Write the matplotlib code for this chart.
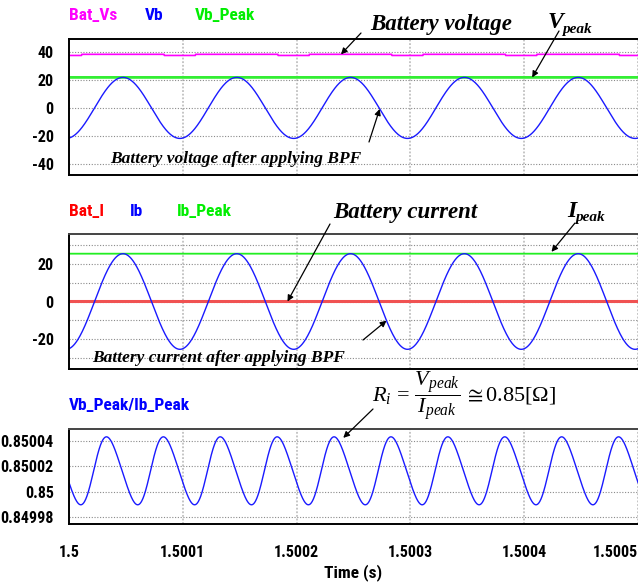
import numpy as np
import matplotlib.pyplot as plt

plt.rcParams['mathtext.fontset'] = 'custom'
plt.rcParams['mathtext.rm'] = 'Liberation Serif'
plt.rcParams['mathtext.it'] = 'Liberation Serif:italic'
plt.rcParams['mathtext.bf'] = 'Liberation Serif:bold'

SANS = ['Roboto Condensed', 'DejaVu Sans']
SERIF = ['Liberation Serif', 'DejaVu Serif']

# time window (s) and ripple parameters
t_start, t_end = 1.5, 1.5005
ripple_freq = 10000.0      # Hz, 5 cycles in 0.5 ms
ripple_phase = -1.41       # rad, first crest near 1.5000475 s
vb_peak = 21.7
ib_peak = 25.5
bat_vs_levels = [38.1, 37.3]   # normal / dipped level of Bat_Vs
bat_i_level = 0.0
ratio_mean = 0.8500165
ratio_amp = 0.0000265
ratio_harm2 = 0.08
ratio_phase = -2.72

x_ticks = [1.5, 1.5001, 1.5002, 1.5003, 1.5004, 1.5005]
x_tick_labels = ['1.5', '1.5001', '1.5002', '1.5003', '1.5004', '1.5005']
v_ticks = [40, 20, 0, -20, -40]
v_tick_labels = ['40', '20', '0', '-20', '-40']
i_ticks = [20, 0, -20]
i_tick_labels = ['20', '0', '-20']
i_minor = [30, 10, -10, -30]
r_ticks = [0.85004, 0.85002, 0.85, 0.84998]
r_tick_labels = ['0.85004', '0.85002', '0.85', '0.84998']

t = np.linspace(t_start, t_end, 2001)
theta = 2 * np.pi * ripple_freq * (t - t_start) + ripple_phase
vb = vb_peak * np.sin(theta)
ib = ib_peak * np.sin(theta)
bat_vs = np.where(vb < -0.65 * vb_peak, bat_vs_levels[1], bat_vs_levels[0])
bat_i = np.full_like(t, bat_i_level)
th2 = 2 * theta - 2 * ripple_phase + ratio_phase
ratio = ratio_mean + ratio_amp * (np.sin(th2) + ratio_harm2 * np.sin(2 * th2))

W, H = 638, 586
def fx(x):
    return x / W
def fy(y):
    return 1 - y / H

fig = plt.figure(figsize=(W / 100, H / 100), dpi=100)
ax1 = fig.add_axes([fx(69), fy(175), 569 / W, 136 / H])
ax2 = fig.add_axes([fx(69), fy(369), 569 / W, 135 / H])
ax3 = fig.add_axes([fx(69), fy(524), 569 / W, 95 / H])

BLUE = '#1a1aff'
GREEN = '#33ee33'
MAGENTA = '#ff00ff'
RED = '#f05252'
TICKFONT = dict(fontfamily=SANS, fontweight='bold', fontsize=11.5)

ax1.plot(t, bat_vs, color=MAGENTA, lw=1.2)
ax1.plot(t, np.full_like(t, vb_peak), color=GREEN, lw=2)
ax1.plot(t, vb, color=BLUE, lw=1)
ax1.set_ylim(-47.7, 49)
ax1.set_yticks(v_ticks, v_tick_labels, **TICKFONT)

ax2.plot(t, bat_i, color=RED, lw=2.2)
ax2.plot(t, np.full_like(t, ib_peak), color='#22ee22', lw=1.3)
ax2.plot(t, ib, color=BLUE, lw=1)
ax2.set_ylim(-36, 36)
ax2.set_yticks(i_ticks, i_tick_labels, **TICKFONT)
ax2.set_yticks(i_minor, minor=True)

ax3.plot(t, ratio, color=BLUE, lw=1)
ax3.set_ylim(0.8499745, 0.8500495)
ax3.set_yticks(r_ticks, r_tick_labels, **TICKFONT)

for ax in (ax1, ax2, ax3):
    ax.set_xlim(t_start, t_end)
    ax.set_xticks(x_ticks)
    ax.tick_params(which='both', length=0, pad=11)
    ax.yaxis.grid(True, which='both', color='#8a8a8a', ls=(0, (1, 1.5)), lw=0.8)
    ax.xaxis.grid(True, color='#c0c0c0', ls=(0, (1, 1)), lw=1.3)
    ax.spines['right'].set_visible(False)
    ax.spines['left'].set_linewidth(1.4)
    ax.spines['bottom'].set_linewidth(1.4)
    ax.spines['top'].set_linewidth(1.4)
    ax.set_axisbelow(True)
ax2.spines['top'].set_color('#444444')
ax3.spines['top'].set_color('#444444')
ax1.set_xticklabels([])
ax2.set_xticklabels([])
ax3.set_xticklabels(x_tick_labels, **TICKFONT)
ax3.tick_params(axis='x', pad=15)
ax3.get_xticklabels()[-1].set_horizontalalignment('right')

# signal names above each panel
def name(x, y, s, c):
    fig.text(fx(x), fy(y), s, color=c, fontfamily=SANS, fontweight='bold',
             fontsize=12.5, va='center', ha='left')

name(69, 16, 'Bat_Vs', MAGENTA)
name(145, 16, 'Vb', '#0000ff')
name(195, 16, 'Vb_Peak', '#00ee00')
name(69, 211, 'Bat_I', '#ff0000')
name(130, 211, 'Ib', '#0000ff')
name(177, 211, 'Ib_Peak', '#00ee00')
name(69, 406, 'Vb_Peak/Ib_Peak', '#0000ff')

fig.text(fx(353), fy(573), 'Time (s)', fontfamily=SANS, fontweight='bold',
         fontsize=12.5, ha='center', va='center')

# annotations
def label(x, y, s, size):
    fig.text(fx(x), fy(y), s, fontfamily=SERIF, fontweight='bold', style='italic',
             fontsize=size, ha='left', va='baseline')

def arrow(ax, tip, tail):
    ax.annotate('', xy=tip, xycoords='data', xytext=(fx(tail[0]), fy(tail[1])),
                textcoords='figure fraction', annotation_clip=False,
                arrowprops=dict(arrowstyle='-|>', color='black', lw=0.9,
                                mutation_scale=9, shrinkA=0, shrinkB=0))

label(370, 30, 'Battery voltage', 16.5)
label(548, 28, 'V', 17)
label(562, 33, 'peak', 11)
label(110, 163, 'Battery voltage after applying BPF', 12.5)
arrow(ax1, (1.500239, bat_vs_levels[0]), (361, 33))
arrow(ax1, (1.500407, vb_peak), (559, 31))
arrow(ax1, (1.500273, 21.7 * np.sin(2 * np.pi * ripple_freq * 0.000273 + ripple_phase)), (369, 142))

label(333, 218, 'Battery current', 16.5)
label(567, 217, 'I', 17)
label(575, 221, 'peak', 11)
label(92, 362, 'Battery current after applying BPF', 12.5)
arrow(ax2, (1.500192, bat_i_level), (330, 224))
arrow(ax2, (1.500424, ib_peak + 1), (575, 223))
arrow(ax2, (1.500279, 25.5 * np.sin(2 * np.pi * ripple_freq * 0.000279 + ripple_phase)), (363, 340))

fig.text(fx(372), fy(396), r'$R_i\,=\,\dfrac{V_{peak}}{I_{peak}}\,\cong 0.85[\Omega]$',
         fontsize=16, ha='left', va='center')
arrow(ax3, (1.500241, 0.8500425), (373, 409))

fig.savefig('out.png', dpi=100)
